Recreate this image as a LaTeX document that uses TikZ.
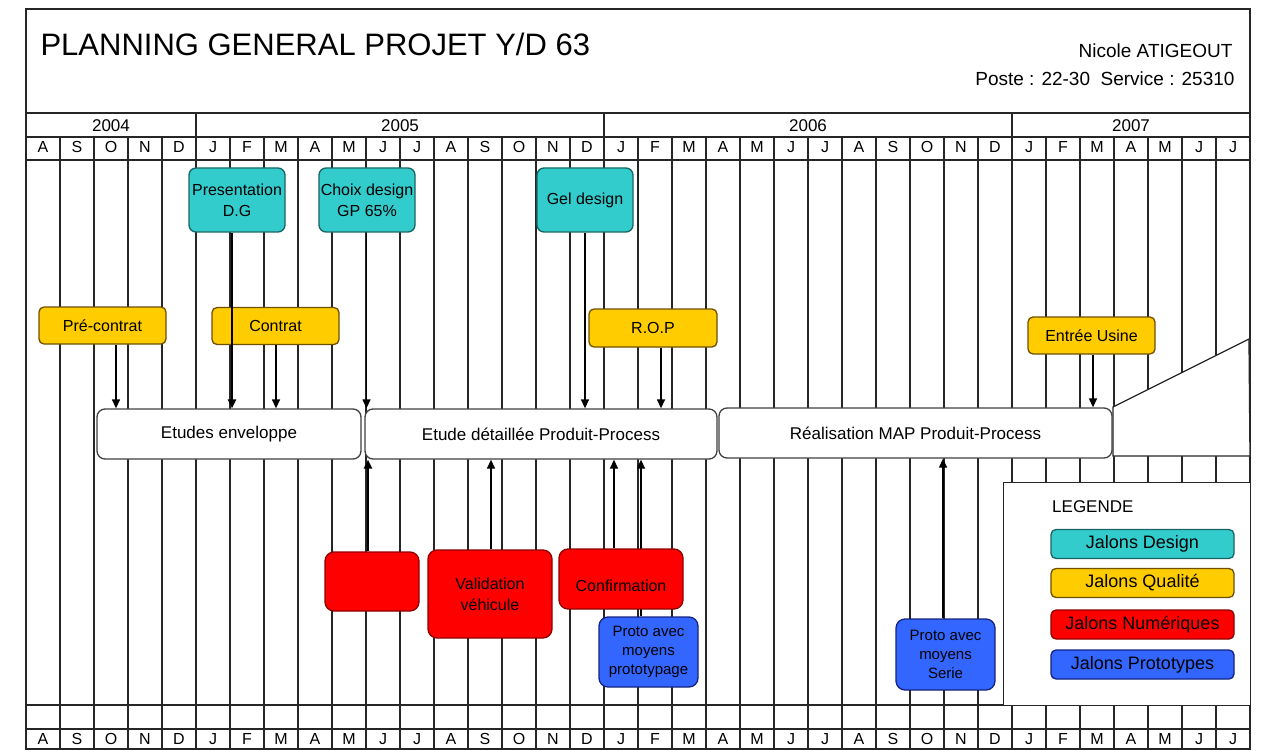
\documentclass[tikz,border=0pt]{standalone}
\usepackage{fontspec}
\setmainfont{Liberation Sans}
\usepackage{tikz}
\usepackage{xcolor}
\usetikzlibrary{arrows.meta}
\usetikzlibrary{calc}

\definecolor{cyanfill}{RGB}{51,204,204}
\definecolor{cyanline}{RGB}{25,100,100}
\definecolor{jaunefill}{RGB}{255,204,0}
\definecolor{jauneline}{RGB}{110,80,0}
\definecolor{rougefill}{RGB}{255,0,0}
\definecolor{rougeline}{RGB}{140,0,0}
\definecolor{bleufill}{RGB}{51,102,255}
\definecolor{bleuline}{RGB}{20,35,130}
\newcommand{\fs}[2]{\fontsize{#1}{#2}\selectfont}

\begin{document}
\begin{tikzpicture}[x=1pt,y=-1pt,>={Triangle[width=8pt,length=9pt]},
	grid/.style={line width=1.3, draw=black!85},
	month/.style={anchor=base, font=\fs{16}{18}, inner sep=0},
	year/.style={anchor=base, font=\fs{17}{20}, inner sep=0},
	jalon/.style={draw, line width=1.3, rounded corners=7, inner sep=1, align=center, font=\fs{16}{21}},
	design/.style={jalon, fill=cyanfill, draw=cyanline, minimum width=96, minimum height=64},
	qualite/.style={jalon, fill=jaunefill, draw=jauneline, rounded corners=5, minimum width=127, minimum height=37},
	numerique/.style={jalon, fill=rougefill, draw=rougeline, rounded corners=9},
	proto/.style={jalon, fill=bleufill, draw=bleuline, rounded corners=9, minimum width=99, minimum height=70, font=\fs{15}{19}},
	phase/.style={draw=black!75, fill=white, line width=1.3, rounded corners=8, minimum height=50, font=\fs{17}{20}},
	legbox/.style={jalon, rounded corners=5, minimum width=183, minimum height=29, font=\fs{18}{20}},
	jalonarrow/.style={->, line width=1.3},
	bigarrow/.style={->, line width=2.6}]

\useasboundingbox (0,0) rectangle (1279,751);

% Origin, column width and right end of the month grid.
\def\xo{26}
\def\colw{34}
\def\xe{1250}

\draw[grid] (\xo,9) rectangle (\xe,749);
\draw[grid] (\xo,113) -- (\xe,113);
\draw[grid] (\xo,137) -- (\xe,137);
\draw[grid] (\xo,160) -- (\xe,160);
\draw[grid] (\xo,705) -- (\xe,705);
\draw[grid] (\xo,729) -- (\xe,729);

% year separators
\foreach \k in {5,17,29}{
	\draw[grid] (\xo+\k*\colw,113) -- (\xo+\k*\colw,137);
}
% month lines
\foreach \k in {1,...,35}{
	\draw[grid] (\xo+\k*\colw,137) -- (\xo+\k*\colw,749);
}

\node[anchor=base west, font=\fs{31}{36}] (titre) at (37,56) {PLANNING GENERAL PROJET Y/D 63};
\node[anchor=base east, font=\fs{19}{22}] (auteur) at (1236,58) {Nicole ATIGEOUT};
\node[anchor=base east, font=\fs{19}{22}] (poste) at (1238,86) {Poste : 22-30\ \ Service : 25310};

\node[year] (y2004) at (\xo+2.5*\colw,132) {2004};
\node[year] (y2005) at (\xo+11*\colw,132) {2005};
\node[year] (y2006) at (\xo+23*\colw,132) {2006};
\node[year] (y2007) at (\xo+32.5*\colw,132) {2007};

\foreach \m [count=\k from 0] in {A,S,O,N,D,J,F,M,A,M,J,J,A,S,O,N,D,J,F,M,A,M,J,J,A,S,O,N,D,J,F,M,A,M,J,J}{
	\node[month] (mh\k) at (\xo+\k*\colw+17,153) {\m};
	\node[month] (mb\k) at (\xo+\k*\colw+17,744) {\m};
}

% the open end after the last phase
\draw[grid, fill=white] (1113,407) -- (1249,339) -- (\xe,456) -- (1113,456) -- cycle;

% Phases
\node[phase, minimum width=264] (enveloppe) at (229,434) {Etudes enveloppe};
\node[phase, minimum width=352] (detail) at (541,434) {Etude détaillée Produit-Process};
\node[phase, minimum width=393] (realisation) at (915.5,433) {Réalisation MAP Produit-Process};

% Jalons
\node[design] (dg) at (237,200) {Presentation\\D.G};
\node[design] (choix) at (367,200) {Choix design\\GP 65\%};
\node[design] (gel) at (585,200) {Gel design};
\node[qualite] (precontrat) at (102.5,325.5) {Pré-contrat};
\node[qualite] (contrat) at (275.5,326) {Contrat};
\node[qualite, minimum width=128, minimum height=38] (rop) at (653,328) {R.O.P};
\node[qualite] (usine) at (1091.5,335.5) {Entrée Usine};
\node[numerique, minimum width=94, minimum height=59] (maquette) at (372,581.5) {};
\node[numerique, minimum width=124, minimum height=88] (validation) at (490,594) {Validation\\véhicule};
\node[proto] (protoproto) at (648.5,652) {Proto avec\\moyens\\prototypage};
\node[proto, minimum height=71] (protoserie) at (945.5,654.5) {Proto avec\\moyens\\Serie};

% x of each arrow
\coordinate (xprecontrat) at (116,0);
\coordinate (xdg) at (232,0);
\coordinate (xcontrat) at (276,0);
\coordinate (xchoix) at (366.5,0);
\coordinate (xgel) at (585,0);
\coordinate (xrop) at (661,0);
\coordinate (xusine) at (1093,0);
\coordinate (xmaquette) at (368,0);
\coordinate (xvalidation) at (491,0);
\coordinate (xconfirmation) at (614,0);
\coordinate (xprotoproto) at (641,0);
\coordinate (xprotoserie) at (943,0);

\draw[jalonarrow] (precontrat.south -| xprecontrat) -- (enveloppe.north -| xprecontrat);
\draw[bigarrow] (dg.south -| xdg) -- (enveloppe.north -| xdg);
\draw[jalonarrow] (contrat.south -| xcontrat) -- (enveloppe.north -| xcontrat);
\draw[jalonarrow] (choix.south -| xchoix) -- (detail.north -| xchoix);
\draw[jalonarrow] (gel.south -| xgel) -- (detail.north -| xgel);
\draw[jalonarrow] (rop.south -| xrop) -- (detail.north -| xrop);
\draw[jalonarrow] (usine.south -| xusine) -- (realisation.north -| xusine);
\draw[bigarrow] (maquette.north -| xmaquette) -- (detail.south -| xmaquette);
\draw[jalonarrow] (validation.north -| xvalidation) -- (detail.south -| xvalidation);
\draw[jalonarrow] (protoproto.north -| xprotoproto) -- (detail.south -| xprotoproto);
\draw[jalonarrow] (protoserie.north -| xprotoserie) -- (realisation.south -| xprotoserie);

\node[numerique, minimum width=124, minimum height=60] (confirmation) at (621,579) {\raisebox{-26pt}{Confirmation}};
\draw[jalonarrow] (confirmation.north -| xconfirmation) -- (detail.south -| xconfirmation);

% Legende
\node[grid, fill=white, minimum width=247, minimum height=223, anchor=north west, inner sep=0] (legende) at (1003,482) {};
\node[anchor=base west, font=\fs{17}{20}, inner sep=0] (legtitre) at (1052,512) {LEGENDE};
\node[legbox, fill=cyanfill, draw=cyanline] (legdesign) at (1142.5,544) {Jalons Design};
\node[legbox, fill=jaunefill, draw=jauneline] (legqualite) at (1142.5,583) {Jalons Qualité};
\node[legbox, fill=rougefill, draw=rougeline] (legnum) at (1142.5,624.5) {Jalons Numériques};
\node[legbox, fill=bleufill, draw=bleuline] (legproto) at (1142.5,664.5) {Jalons Prototypes};

\end{tikzpicture}
\end{document}
